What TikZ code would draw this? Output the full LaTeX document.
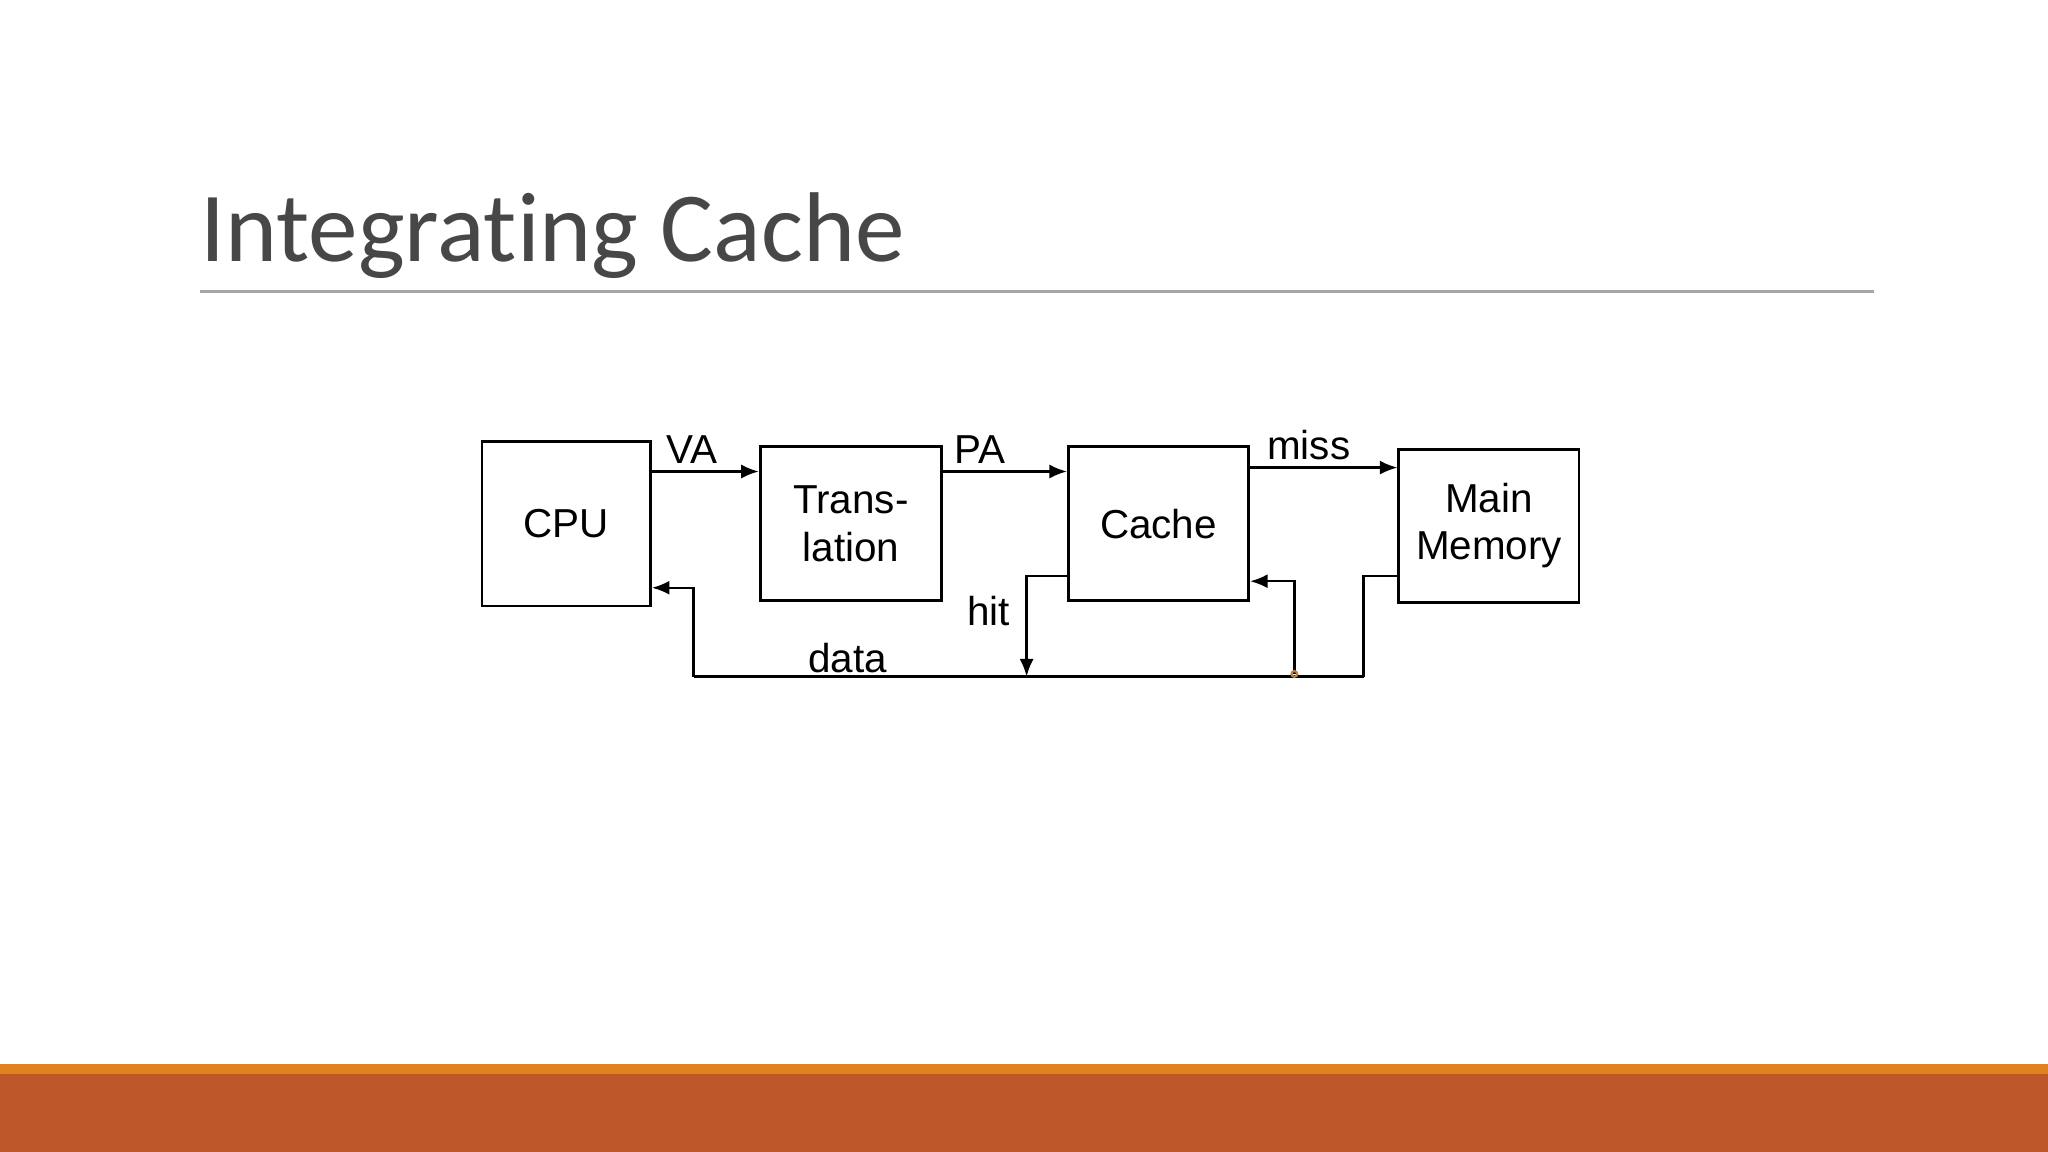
\documentclass[tikz,border=0pt]{standalone}
\usepackage{fontspec}
\setmainfont{Liberation Sans}
\newfontfamily\titlefont[Ligatures=NoCommon]{Carlito}
\usetikzlibrary{arrows.meta}
\begin{document}
\begin{tikzpicture}[x=0.013061cm,y=-0.013061cm,
  box/.style={draw,line width=0.8pt,inner sep=0pt,align=center,font=\fontsize{11.5}{13.5}\selectfont},
  lab/.style={font=\fontsize{11.5}{13.5}\selectfont,inner sep=0pt},
  ln/.style={line width=0.7pt},
  arr/.style={ln,-{Latex[length=5pt,width=4pt]}}]
\useasboundingbox (0,0) rectangle (1568,882);
\fill[white] (0,0) rectangle (1568,882);
\fill[fill={rgb,255:red,190;green,88;blue,42}] (0,822) rectangle (1568,882);
\fill[fill={rgb,255:red,224;green,131;blue,30}] (0,815) rectangle (1568,822);
\node[anchor=base west,inner sep=0pt,text=black!72,font=\titlefont\fontsize{28.2}{34}\selectfont] (title) at (153,200) {Integrating Cache};
\draw[black!35,line width=0.8pt] (153,223) -- (1435,223);
\node[box,minimum width=1.685cm,minimum height=1.646cm] (cpu) at (433.5,401) {CPU};
\node[box,minimum width=1.815cm,minimum height=1.541cm] (tr) at (651.5,401) {Trans-\\lation};
\node[box,minimum width=1.802cm,minimum height=1.541cm] (ca) at (887,401) {Cache};
\node[box,minimum width=1.802cm,minimum height=1.528cm] (mm) at (1140,402.5) {Main\\Memory};
\draw[arr] (cpu.east|-0,361) -- (tr.west|-0,361);
\draw[arr] (tr.east|-0,361) -- (ca.west|-0,361);
\draw[arr] (ca.east|-0,358) -- (mm.west|-0,358);
\coordinate (d1) at (531,518);
\coordinate (d2) at (1044,518);
\draw[arr] (d1) |- (cpu.east|-0,450);
\draw[ln] (d1) -- (d2);
\draw[arr] (ca.west|-0,441) -| (786,518);
\draw[ln] (mm.west|-0,441) -| (d2);
\coordinate (c1) at (991,516);
\draw[arr] (c1) |- (ca.east|-0,445);
\draw[brown,line width=0.6pt] (c1) circle (2.2);
\node[lab] (va) at (530,344) {VA};
\node[lab] (pa) at (750,344) {PA};
\node[lab] (miss) at (1002,341) {miss};
\node[lab] (hit) at (757,468) {hit};
\node[lab] (data) at (649,504) {data};
\end{tikzpicture}
\end{document}
